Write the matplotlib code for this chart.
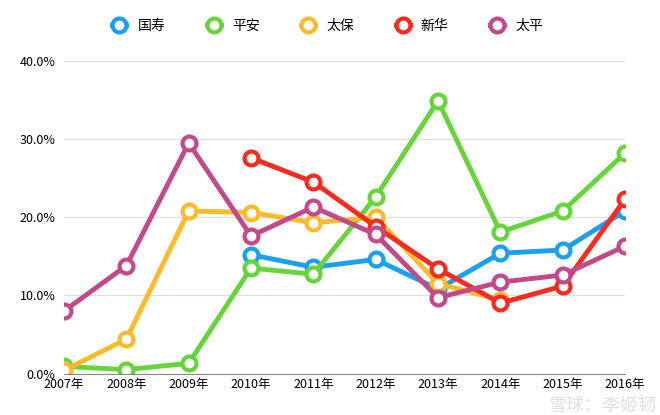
import matplotlib.pyplot as plt
import numpy as np

plt.rcParams['font.family'] = 'Noto Sans CJK SC'

years = ['2007年', '2008年', '2009年', '2010年', '2011年', '2012年', '2013年', '2014年', '2015年', '2016年']
nan = np.nan
guoshou = [nan, nan, nan, 15.2, 13.6, 14.6, 10.8, 15.4, 15.8, 20.8]
pingan = [0.9, 0.5, 1.3, 13.5, 12.7, 22.6, 34.9, 18.1, 20.8, 28.2]
taibao = [0.4, 4.4, 20.8, 20.6, 19.3, 20.0, 11.5, 9.4, nan, nan]
xinhua = [nan, nan, nan, 27.6, 24.5, 18.8, 13.4, 9.0, 11.2, 22.3]
taiping = [8.0, 13.8, 29.5, 17.6, 21.3, 17.8, 9.7, 11.7, 12.6, 16.3]

series = [('国寿', guoshou, '#1aa0f0'), ('平安', pingan, '#66d53a'),
          ('太保', taibao, '#fdbb2b'), ('新华', xinhua, '#fb2a1f'),
          ('太平', taiping, '#c2498a')]

fig, ax = plt.subplots(figsize=(6.6, 4.15), dpi=100)
fig.subplots_adjust(left=0.097, right=0.947, top=0.853, bottom=0.1)
x = np.arange(len(years))
for name, vals, c in series:
    ax.plot(x, vals, color=c, lw=3.5, marker='o', ms=10, mfc='white',
            mec=c, mew=3, label=name)

ax.set_ylim(0, 40)
ax.set_xlim(0, 9)
ax.set_yticks([0, 10, 20, 30, 40])
ax.set_yticklabels(['0.0%', '10.0%', '20.0%', '30.0%', '40.0%'])
ax.set_xticks(x)
ax.set_xticklabels(years)
ax.tick_params(length=0, labelsize=9)
ax.tick_params(axis='y', pad=6)
ax.grid(axis='y', color='#dddddd', lw=0.8)
ax.set_axisbelow(True)
for s in ['top', 'right', 'left']:
    ax.spines[s].set_visible(False)
ax.spines['bottom'].set_color('#888888')

ax.legend(loc='lower center', bbox_to_anchor=(0.47, 1.05), ncol=5, frameon=False,
          fontsize=10, handlelength=1.0, columnspacing=3)
fig.text(0.995, 0.0, '雪球：李姬韧', ha='right', va='bottom', fontsize=13,
         color='#cccccc', alpha=0.6)
fig.savefig('out.png')
